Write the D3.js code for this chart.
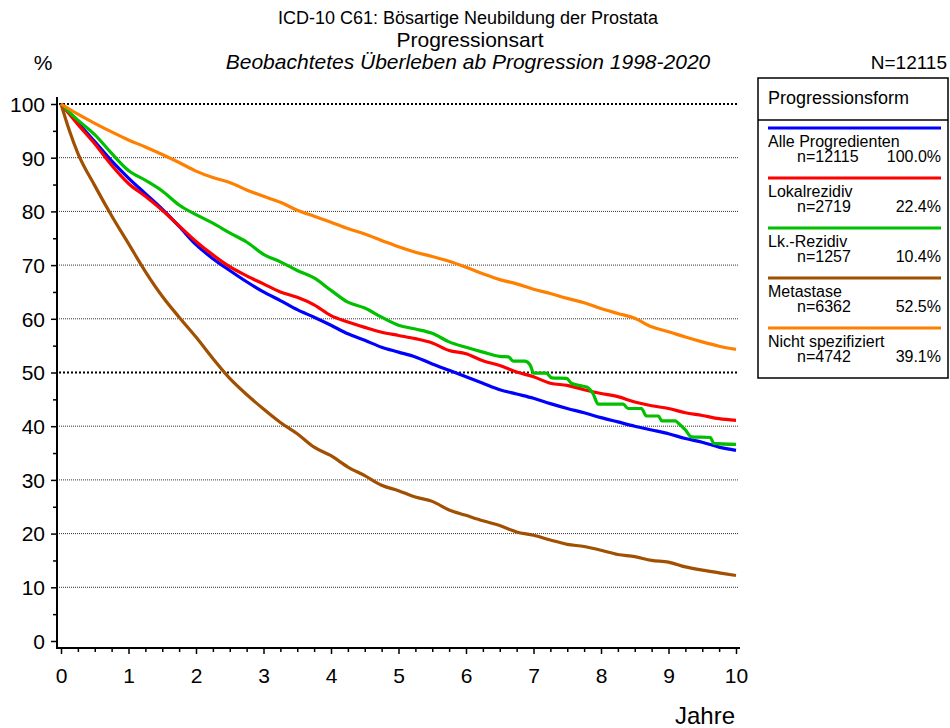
<!DOCTYPE html>
<html><head><meta charset="utf-8">
<script src="https://cdn.jsdelivr.net/npm/d3@7"></script>
<style>body{margin:0;background:#fff} svg text{font-family:Arial,"Liberation Sans",sans-serif;fill:#000}</style>
</head><body><svg id="c" width="950" height="728"></svg>
<script>
// ---- data ----
const years = [0,0.25,0.5,0.75,1,1.25,1.5,1.75,2,2.25,2.5,2.75,3,3.25,3.5,3.75,4,4.25,4.5,4.75,5,5.25,5.5,5.75,6,6.25,6.5,6.75,7,7.25,7.5,7.75,8,8.25,8.5,8.75,9,9.25,9.5,9.75,10];
const alleProgredienten = [100,96.5,93.0,89.4,86.2,83.3,80.4,77.2,73.8,71.2,69.0,66.9,65.0,63.4,61.7,60.3,58.8,57.2,56.0,54.7,53.8,52.9,51.6,50.4,49.2,48.0,46.8,46.0,45.2,44.2,43.3,42.5,41.6,40.8,40.0,39.3,38.6,37.7,37.0,36.1,35.5];
const lokalrezidiv = [100,96.2,92.6,88.6,85.2,82.8,80.2,77.3,74.4,71.9,69.7,68.0,66.5,65.0,64.0,62.6,60.6,59.4,58.4,57.5,56.9,56.3,55.5,54.1,53.5,52.2,51.3,50.1,49.2,48.0,47.6,46.8,46.1,45.5,44.5,43.8,43.3,42.5,42.0,41.4,41.1];
const lkRezidivYears = [0,0.25,0.5,0.75,1,1.25,1.5,1.75,2,2.25,2.5,2.75,3,3.25,3.5,3.75,4,4.25,4.5,4.75,5,5.25,5.5,5.75,6,6.25,6.5,6.63,6.70,6.87,6.95,7.00,7.19,7.27,7.49,7.56,7.71,7.79,7.88,7.96,8.33,8.40,8.60,8.67,8.85,8.90,9.10,9.15,9.25,9.34,9.62,9.67,10];
const lkRezidiv = [100,97.0,94.3,90.8,87.6,85.8,83.8,81.2,79.4,77.8,76.0,74.3,72.0,70.6,69.0,67.6,65.3,63.1,62.0,60.3,58.8,58.1,57.3,55.7,54.7,53.8,53.0,52.9,52.1,52.1,51.4,49.9,49.9,49.0,48.9,48.0,47.5,47.3,46.1,44.1,44.1,43.3,43.3,41.9,41.9,41.0,41.0,40.5,39.3,38.0,37.9,36.8,36.6];
const metastaseYears = [0,0.125,0.25,0.5,0.75,1,1.25,1.5,1.75,2,2.25,2.5,2.75,3,3.25,3.5,3.75,4,4.25,4.5,4.75,5,5.25,5.5,5.75,6,6.25,6.5,6.75,7,7.25,7.5,7.75,8,8.25,8.5,8.75,9,9.25,9.5,9.75,10];
const metastase = [100,95.0,90.8,84.8,79.2,74.0,68.8,64.2,60.3,56.6,52.6,48.9,45.9,43.2,40.7,38.6,36.1,34.5,32.4,30.8,29.0,28.0,26.8,26.0,24.4,23.4,22.4,21.5,20.3,19.7,18.8,18.0,17.6,16.9,16.1,15.7,15.0,14.7,13.8,13.2,12.7,12.2];
const nichtSpezifiziert = [100,98.1,96.4,94.8,93.3,92.0,90.6,89.1,87.5,86.3,85.4,84.0,82.8,81.7,80.2,79.1,78.0,76.8,75.8,74.6,73.4,72.4,71.6,70.7,69.6,68.4,67.3,66.5,65.5,64.7,63.8,63.0,61.9,61.0,60.1,58.5,57.6,56.6,55.7,54.9,54.3];

const seriesNames = ["Alle Progredienten","Lokalrezidiv","Lk.-Rezidiv","Metastase","Nicht spezifiziert"];
const seriesN = ["n=12115","n=2719","n=1257","n=6362","n=4742"];
const seriesPct = ["100.0%","22.4%","10.4%","52.5%","39.1%"];
const seriesColors = ["#0000FF","#FF0000","#00C000","#A05000","#FF8000"];
const yTicks = [0,10,20,30,40,50,60,70,80,90,100];
const xTicks = [0,1,2,3,4,5,6,7,8,9,10];

const series = [
  {t: years, v: alleProgredienten},
  {t: years, v: lokalrezidiv},
  {t: lkRezidivYears, v: lkRezidiv},
  {t: metastaseYears, v: metastase},
  {t: years, v: nichtSpezifiziert}
];

// ---- chart ----
const svg = d3.select("#c");
const x = d3.scaleLinear().domain([0,10]).range([61,736]);
const y = d3.scaleLinear().domain([0,100]).range([641,104]);

// titles
svg.append("text").attr("x",468).attr("y",24).attr("text-anchor","middle").style("font-size","18px")
  .text("ICD-10 C61: Bösartige Neubildung der Prostata");
svg.append("text").attr("x",470).attr("y",47).attr("text-anchor","middle").style("font-size","21px")
  .text("Progressionsart");
svg.append("text").attr("x",468).attr("y",69).attr("text-anchor","middle").style("font-size","21px").style("font-style","italic")
  .text("Beobachtetes Überleben ab Progression 1998-2020");
svg.append("text").attr("x",43).attr("y",70).attr("text-anchor","middle").style("font-size","21px").text("%");
svg.append("text").attr("x",947).attr("y",69).attr("text-anchor","end").style("font-size","19px").text("N=12115");

// grid
const grid = svg.append("g");
yTicks.filter(d=>d>0).forEach(d=>{
  const thick = (d===50||d===100);
  grid.append("line").attr("x1",59).attr("x2",738).attr("y1",y(d)).attr("y2",y(d))
    .attr("stroke", thick?"#000":"#333").attr("stroke-width", thick?2:1)
    .attr("stroke-dasharray", thick?"2,2":"1,1");
});

// y axis
const yAxis = d3.axisLeft(y).tickValues(d3.range(0,101,5)).tickSize(5).tickFormat(d=> d%10===0 ? d : "");
const gy = svg.append("g").attr("transform","translate(57,0)").call(yAxis);
gy.select(".domain").remove();
gy.selectAll(".tick line").attr("stroke","#000").attr("stroke-width",1.5).attr("x2",d=> d%10===0?-6:-4);
gy.selectAll(".tick text").style("font-size","21px").style("font-family","Arial, 'Liberation Sans', sans-serif").attr("x",-12).attr("dy","0.35em").attr("fill","#000");
svg.append("line").attr("x1",57).attr("x2",57).attr("y1",97).attr("y2",649).attr("stroke","#000").attr("stroke-width",2);

// x axis
const xAxis = d3.axisBottom(x).tickValues(d3.range(0,10.01,0.25)).tickSize(5).tickFormat(d=> Number.isInteger(d) ? d : "");
const gx = svg.append("g").attr("transform","translate(0,648)").call(xAxis);
gx.select(".domain").remove();
gx.selectAll(".tick line").attr("stroke","#000").attr("stroke-width",1.5).attr("y2",d=> Number.isInteger(d)?6:4);
gx.selectAll(".tick text").style("font-size","21px").style("font-family","Arial, 'Liberation Sans', sans-serif").attr("y",28).attr("dy","0.35em").attr("fill","#000");
svg.append("line").attr("x1",56).attr("x2",740).attr("y1",648).attr("y2",648).attr("stroke","#000").attr("stroke-width",2);
svg.append("text").attr("x",705).attr("y",724).attr("text-anchor","middle").style("font-size","24px").text("Jahre");

// curves
const line = d3.line().x(d=>x(d[0])).y(d=>y(d[1])).curve(d3.curveMonotoneX);
series.forEach((s,i)=>{
  const pts = s.t.map((t,j)=>[t,s.v[j]]);
  svg.append("path").datum(pts).attr("d",line).attr("fill","none")
    .attr("stroke",seriesColors[i]).attr("stroke-width",3.2).attr("stroke-linejoin","round");
});

// legend
const lg = svg.append("g");
lg.append("rect").attr("x",758).attr("y",78).attr("width",190).attr("height",300).attr("fill","#fff").attr("stroke","#000").attr("stroke-width",1.5);
lg.append("line").attr("x1",758).attr("x2",948).attr("y1",120).attr("y2",120).attr("stroke","#000").attr("stroke-width",1.5);
lg.append("text").attr("x",768).attr("y",104).style("font-size","18px").text("Progressionsform");
seriesNames.forEach((nm,i)=>{
  const y0 = 128 + i*50;
  lg.append("line").attr("x1",768).attr("x2",941).attr("y1",y0).attr("y2",y0).attr("stroke",seriesColors[i]).attr("stroke-width",3);
  lg.append("text").attr("x",768).attr("y",y0+19).style("font-size","16px").text(nm);
  lg.append("text").attr("x",797).attr("y",y0+34).style("font-size","16px").text(seriesN[i]);
  lg.append("text").attr("x",941).attr("y",y0+34).attr("text-anchor","end").style("font-size","16px").text(seriesPct[i]);
});
</script></body></html>
